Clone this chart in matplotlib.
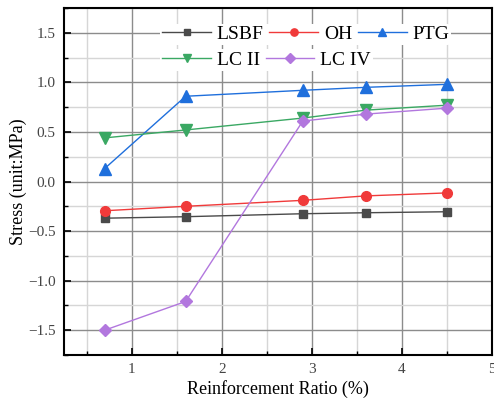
import matplotlib

matplotlib.use("Agg")

import matplotlib.pyplot as plt
from matplotlib.ticker import MultipleLocator

# Reinforcement ratio (%) and stress (MPa)
ratio = [0.7, 1.6, 2.9, 3.6, 4.5]

lsbf = [-0.37, -0.355, -0.325, -0.315, -0.305]
oh = [-0.295, -0.25, -0.19, -0.145, -0.115]
ptg = [0.13, 0.86, 0.92, 0.95, 0.98]
lc_ii = [0.44, 0.52, 0.64, 0.72, 0.77]
lc_iv = [-1.5, -1.21, 0.61, 0.68, 0.74]

series_names = ["LSBF", "OH", "PTG", "LC II", "LC IV"]
series_values = [lsbf, oh, ptg, lc_ii, lc_iv]
series_colors = ["#4a4a4a", "#f03a3a", "#1f6fdc", "#3aa863", "#b277de"]
series_markers = ["s", "o", "^", "v", "D"]
series_sizes = [6, 7, 8, 8, 6.5]

# legend rows as laid out in the reference (row-wise flow)
legend_rows = [["LSBF", "OH", "PTG"], ["LC II", "LC IV"]]

plt.rcParams["font.family"] = ["Liberation Serif", "DejaVu Serif"]
plt.rcParams["axes.unicode_minus"] = True

figure = plt.figure(figsize=(4.94, 4.01), dpi=100)
axis = figure.add_axes([0.1296, 0.1147, 0.8664, 0.8653])

handles = {}
for name, values, color, marker, size in zip(
    series_names,
    series_values,
    series_colors,
    series_markers,
    series_sizes,
):
    (line,) = axis.plot(
        ratio,
        values,
        color=color,
        linewidth=1.0,
        marker=marker,
        markersize=size,
        label=name,
        zorder=3,
    )
    handles[name] = line

axis.set_xlim(0.25, 5.0)
axis.set_ylim(-1.75, 1.75)

axis.xaxis.set_major_locator(MultipleLocator(1))
axis.xaxis.set_minor_locator(MultipleLocator(0.5))
axis.yaxis.set_major_locator(MultipleLocator(0.5))
axis.yaxis.set_minor_locator(MultipleLocator(0.25))

axis.set_xticks([1, 2, 3, 4, 5])
axis.set_xticklabels(["1", "2", "3", "4", "5"])
axis.set_yticks([-1.5, -1.0, -0.5, 0.0, 0.5, 1.0, 1.5])
axis.set_yticklabels(
    ["\u22121.5", "\u22121.0", "\u22120.5", "0.0", "0.5", "1.0", "1.5"]
)

axis.grid(True, which="major", color="#8c8c8c", linewidth=1.0, zorder=0)
axis.grid(True, which="minor", color="#d6d6d6", linewidth=1.0, zorder=0)
axis.set_axisbelow(True)

axis.tick_params(
    which="major",
    direction="in",
    length=5,
    width=1.2,
    labelsize=11,
    labelcolor="#444444",
    pad=6,
)
axis.tick_params(which="minor", direction="in", length=3, width=1.0)

for spine in axis.spines.values():
    spine.set_linewidth(1.5)
    spine.set_color("black")

axis.set_xlabel("Reinforcement Ratio (%)", fontsize=13, labelpad=3)
axis.set_ylabel("Stress (unit:MPa)", fontsize=13, labelpad=1)

# Two legends, one per row, so the entries flow like the reference
row_tops = [0.955, 0.881]
for row, top in zip(legend_rows, row_tops):
    legend = axis.legend(
        [handles[name] for name in row],
        row,
        ncol=len(row),
        loc="upper left",
        bbox_to_anchor=(0.225, top),
        fontsize=14,
        frameon=True,
        framealpha=1.0,
        edgecolor="none",
        borderpad=0.1,
        markerscale=0.75,
        handlelength=2.5,
        handletextpad=0.3,
        columnspacing=0.3,
        borderaxespad=0.0,
    )
    legend.get_frame().set_linewidth(0)
    axis.add_artist(legend)

figure.savefig("out.png", dpi=100)
